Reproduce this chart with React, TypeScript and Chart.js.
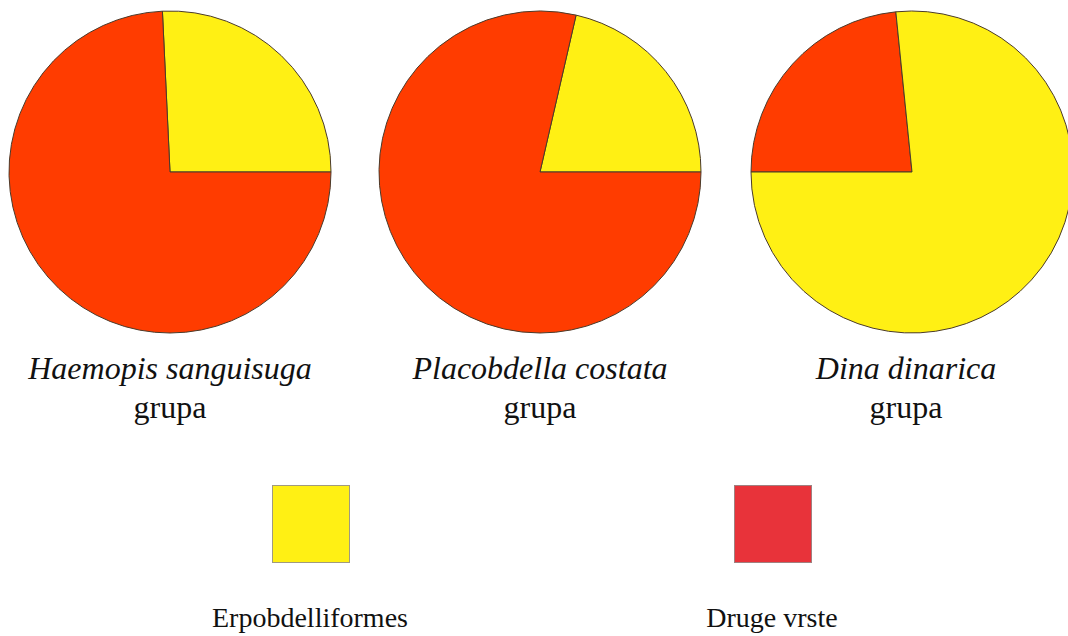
import React, { useEffect, useRef } from "react";
import { Chart, registerables } from "chart.js";

Chart.register(...registerables);

// Data (percent of each group)
const groupNames = ["Haemopis sanguisuga", "Placobdella costata", "Dina dinarica"];
const groupSuffix = "grupa";
const erpobdelliformes = [25.75, 21.4, 76.6];
const drugeVrste = [74.25, 78.6, 23.4];
const legendLabels = ["Erpobdelliformes", "Druge vrste"];

const YELLOW = "#FFF014";
const RED = "#FF3C00";
const LEGEND_RED = "#E8333A";

const centersX = [170, 540, 912];
const CY = 172;
const R = 161;
const SIZE = 330;

function Pie({ idx }: { idx: number }) {
  const ref = useRef<HTMLCanvasElement | null>(null);
  useEffect(() => {
    if (!ref.current) return;
    const y = erpobdelliformes[idx];
    const r = drugeVrste[idx];
    let data: number[], colors: string[], rotation: number;
    if (idx < 2) {
      // yellow slice ends at 3 o'clock
      data = [y, r];
      colors = [YELLOW, RED];
      rotation = 90 - (y / (y + r)) * 360;
    } else {
      // red slice starts at 9 o'clock
      data = [r, y];
      colors = [RED, YELLOW];
      rotation = -90;
    }
    const chart = new Chart(ref.current, {
      type: "pie",
      data: {
        labels: idx < 2 ? legendLabels : [legendLabels[1], legendLabels[0]],
        datasets: [
          {
            data,
            backgroundColor: colors,
            borderColor: "#4a3a2a",
            borderWidth: 1,
          },
        ],
      },
      options: {
        responsive: false,
        animation: false,
        rotation,
        radius: R,
        layout: { padding: 0 },
        plugins: { legend: { display: false }, tooltip: { enabled: false } },
      },
    });
    return () => chart.destroy();
  }, [idx]);
  return (
    <canvas
      ref={ref}
      width={SIZE}
      height={SIZE}
      style={{
        position: "absolute",
        left: centersX[idx] - SIZE / 2,
        top: CY - SIZE / 2,
        width: SIZE,
        height: SIZE,
      }}
    />
  );
}

export default function App() {
  const font = '"Liberation Serif", "Times New Roman", serif';
  const legendText = (text: string, cx: number) => (
    <div
      style={{
        position: "absolute",
        left: cx - 150,
        width: 300,
        top: 602,
        textAlign: "center",
        fontSize: 28,
        lineHeight: "32px",
      }}
    >
      {text}
    </div>
  );
  return (
    <div
      style={{
        position: "fixed",
        left: 0,
        top: 0,
        width: 1068,
        height: 636,
        overflow: "hidden",
        background: "#fff",
        fontFamily: font,
        color: "#111",
      }}
    >
      {groupNames.map((_, i) => (
        <Pie key={i} idx={i} />
      ))}
      {groupNames.map((name, i) => (
        <div
          key={"t" + i}
          style={{
            position: "absolute",
            left: centersX[i] - 200 + (i === 2 ? -6 : 0),
            width: 400,
            top: 349,
            textAlign: "center",
            fontSize: 32,
            lineHeight: "39px",
          }}
        >
          <div style={{ fontStyle: "italic" }}>{name}</div>
          <div>{groupSuffix}</div>
        </div>
      ))}
      <div
        style={{
          position: "absolute",
          left: 272,
          top: 485,
          width: 76,
          height: 76,
          background: YELLOW,
          border: "1px solid #a09a80",
        }}
      />
      <div
        style={{
          position: "absolute",
          left: 734,
          top: 485,
          width: 76,
          height: 76,
          background: LEGEND_RED,
          border: "1px solid #a08080",
        }}
      />
      {legendText(legendLabels[0], 310)}
      {legendText(legendLabels[1], 772)}
    </div>
  );
}
